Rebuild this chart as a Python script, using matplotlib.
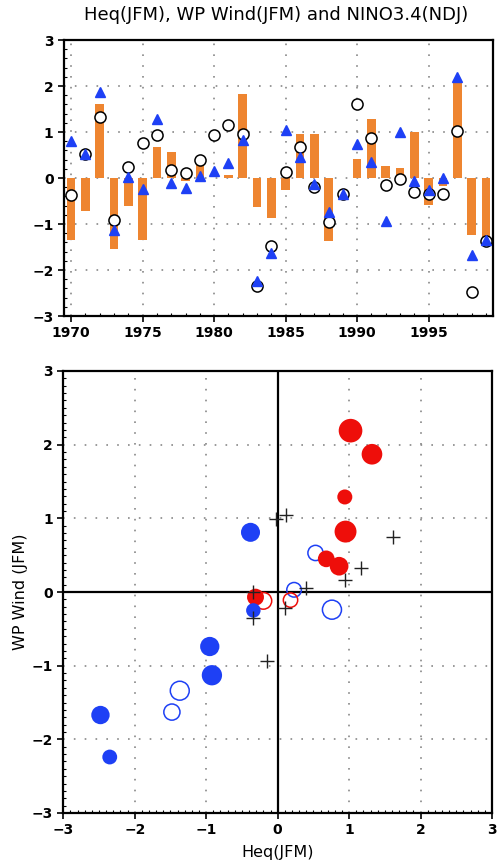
import matplotlib
matplotlib.use("Agg")
import matplotlib.pyplot as plt
from matplotlib.ticker import MultipleLocator
import numpy as np

years = list(range(1970, 2000))
heq = [-1.34, -0.71, 1.61, -1.55, -0.60, -1.34, 0.67, 0.56, -0.06, 0.30,
       0.01, 0.07, 1.82, -0.64, -0.86, -0.25, 0.95, 0.95, -1.38, -0.01,
       0.41, 1.28, 0.26, 0.22, 0.99, -0.58, -0.17, 2.11, -1.23, -1.32]
wind = [0.81, 0.53, 1.87, -1.13, 0.03, -0.24, 1.29, -0.11, -0.22, 0.05,
        0.16, 0.32, 0.82, -2.24, -1.63, 1.05, 0.45, -0.12, -0.74, -0.35,
        0.74, 0.35, -0.93, 0.99, -0.07, -0.25, 0.00, 2.19, -1.67, -1.34]
nino = [-0.38, 0.53, 1.32, -0.92, 0.23, 0.76, 0.94, 0.18, 0.10, 0.39,
        0.94, 1.16, 0.95, -2.35, -1.48, 0.12, 0.68, -0.20, -0.95, -0.34,
        1.61, 0.86, -0.15, -0.03, -0.31, -0.34, -0.34, 1.02, -2.48, -1.37]
# scatter style per year: 'F' filled circle, 'O' open circle, 'X' cross
style = ['F', 'O', 'F', 'F', 'O', 'O', 'F', 'O', 'X', 'X',
         'X', 'X', 'F', 'F', 'O', 'X', 'F', 'O', 'F', 'X',
         'X', 'F', 'X', 'X', 'F', 'F', 'X', 'F', 'F', 'O']

title = "Heq(JFM), WP Wind(JFM) and NINO3.4(NDJ)"
xlabel = "Heq(JFM)"
ylabel = "WP Wind (JFM)"

ORANGE = '#EE8530'
BLUE = '#1E40F5'
RED = '#EE0E0A'
GRIDC = '#888888'
dots = (0, (1, 5.5))

fig = plt.figure(figsize=(5.02, 8.65), dpi=100)
W, H = 502, 865

def axpix(l, r, t, b):
    return fig.add_axes([l / W, (H - b) / H, (r - l) / W, (b - t) / H])

def style_axes(ax):
    for s in ax.spines.values():
        s.set_linewidth(1.6)
    ax.tick_params(which='major', direction='out', length=4, width=1.2,
                   labelsize=10)
    ax.tick_params(which='minor', direction='in', length=2.5, width=0.8)
    for lab in ax.get_xticklabels() + ax.get_yticklabels():
        lab.set_fontweight('bold')

# ---------- top panel ----------
ax1 = axpix(64, 493, 40, 316)
ax1.set_axisbelow(True)
ax1.bar(years, heq, width=0.6, color=ORANGE, zorder=2)
ax1.plot(years, nino, 'o', ms=8, mfc='white', mec='black', mew=1.1,
         linestyle='none', zorder=3)
ax1.plot(years, wind, '^', ms=6.5, color=BLUE, linestyle='none', zorder=4)
ax1.set_xlim(1969.5, 1999.5)
ax1.set_ylim(-3, 3)
ax1.set_xticks(range(1970, 2000, 5))
ax1.xaxis.set_minor_locator(MultipleLocator(1))
ax1.set_yticks(range(-3, 4))
ax1.yaxis.set_minor_locator(MultipleLocator(0.2))
ax1.grid(True, which='major', color=GRIDC, linestyle=dots, linewidth=1.2)
style_axes(ax1)
fig.text(276 / W, 1 - 15 / H, title, ha='center', va='center', fontsize=13)

# ---------- bottom panel ----------
ax2 = axpix(63.3, 492, 371, 813)
ax2.set_axisbelow(True)
ax2.axhline(0, color='black', lw=1.6, zorder=1.5)
ax2.axvline(0, color='black', lw=1.6, zorder=1.5)

def size_of(h):
    r_px = 5.5 + 3.0 * abs(h)
    r_pt = r_px * 0.72
    return (2 * r_pt) ** 2

for x, y, h, st in zip(nino, wind, heq, style):
    c = RED if h > 0 else BLUE
    if st == 'F':
        ax2.scatter([x], [y], s=size_of(h), color=c, edgecolors='none',
                    zorder=3)
    elif st == 'O':
        ax2.scatter([x], [y], s=size_of(h), facecolors='none',
                    edgecolors=c, linewidths=1.1, zorder=3)
    else:
        ax2.plot([x], [y], '+', ms=9.5, mew=1.0, color='#222222', zorder=4)

ax2.set_xlim(-3, 3)
ax2.set_ylim(-3, 3)
ax2.set_xticks(range(-3, 4))
ax2.set_yticks(range(-3, 4))
ax2.xaxis.set_minor_locator(MultipleLocator(0.1))
ax2.yaxis.set_minor_locator(MultipleLocator(0.1))
ax2.grid(True, which='major', color=GRIDC, linestyle=dots, linewidth=1.2)
style_axes(ax2)
ax2.set_xlabel(xlabel, fontsize=11.5)
ax2.set_ylabel(ylabel, fontsize=11.5)
ax2.xaxis.set_label_coords(0.5, (813 - 845) / 442)
ax2.yaxis.set_label_coords((28 - 63.3) / 428.7, 0.5)

fig.savefig('out.png', dpi=100)
